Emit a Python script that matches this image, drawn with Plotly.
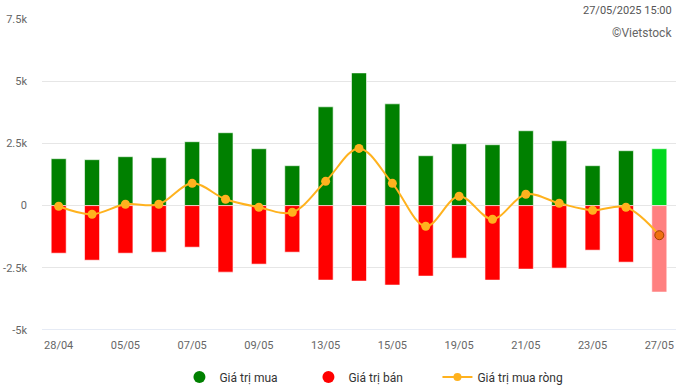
import plotly.graph_objects as go

dates = ["28/04", "29/04", "05/05", "06/05", "07/05", "08/05", "09/05", "12/05",
         "13/05", "14/05", "15/05", "16/05", "19/05", "20/05", "21/05", "22/05",
         "23/05", "26/05", "27/05"]
buy = [1886, 1846, 1966, 1926, 2568, 2929, 2286, 1604, 3971, 5334, 4091, 2005,
       2487, 2447, 3008, 2607, 1604, 2206, 2286]
sell = [-1913, -2194, -1913, -1873, -1672, -2675, -2353, -1872, -2995, -3035,
        -3195, -2834, -2112, -2995, -2553, -2513, -1791, -2273, -3476]
net = [b + s for b, s in zip(buy, sell)]
label_dates = ["28/04", "05/05", "07/05", "09/05", "13/05", "15/05", "19/05",
               "21/05", "23/05", "27/05"]
y_ticks = [-5000, -2500, 0, 2500, 5000, 7500]
y_labels = ["-5k", "-2.5k", "0", "2.5k", "5k", "7.5k"]

n = len(dates)
buy_colors = ["#008000"] * (n - 1) + ["#00d81e"]
sell_colors = ["#ff0000"] * (n - 1) + ["#ff8080"]
net_colors = ["#ffb21e"] * (n - 1) + ["#f07010"]
net_line_colors = ["#ffb21e"] * (n - 1) + ["#a04000"]

fig = go.Figure()
fig.add_trace(go.Bar(x=dates, y=buy, marker=dict(color=buy_colors, line=dict(color="white", width=0.6)),
                     showlegend=False, hoverinfo="y"))
fig.add_trace(go.Bar(x=dates, y=sell, marker=dict(color=sell_colors, line=dict(color="white", width=0.6)),
                     showlegend=False, hoverinfo="y"))
fig.add_trace(go.Scatter(x=dates, y=net, mode="lines+markers", line=dict(color="#ffb21e", width=2, shape="spline"),
                         marker=dict(size=9, color=net_colors, line=dict(color=net_line_colors, width=[0] * (n - 1) + [1])),
                         showlegend=False))
# legend entries
fig.add_trace(go.Scatter(x=[None], y=[None], mode="markers", name="Giá trị mua",
                         marker=dict(symbol="circle", size=12, color="#008000")))
fig.add_trace(go.Scatter(x=[None], y=[None], mode="markers", name="Giá trị bán",
                         marker=dict(symbol="circle", size=12, color="#ff0000")))
fig.add_trace(go.Scatter(x=[None], y=[None], mode="lines+markers", name="Giá trị mua ròng",
                         line=dict(color="#ffb21e", width=2), marker=dict(size=8, color="#ffb21e")))

fig.update_layout(
    width=679, height=389,
    margin=dict(l=42, r=3, t=19, b=59, autoexpand=False),
    paper_bgcolor="white", plot_bgcolor="white",
    barmode="relative", bargap=0.55,
    font=dict(family="Roboto, Arial, sans-serif", size=11, color="#666666"),
    legend=dict(orientation="h", x=0.522, xanchor="center", y=-0.151, yanchor="middle",
                font=dict(size=12, color="#333333"), itemwidth=30,
                entrywidth=84, entrywidthmode="pixels"),
    xaxis=dict(type="category", categoryorder="array", categoryarray=dates,
               range=[-0.5, n - 0.5], tickmode="array", tickvals=label_dates, ticktext=label_dates,
               showgrid=False, showline=False, ticks="", tickfont=dict(size=11, color="#666666"),
               ticklabelstandoff=7, fixedrange=True),
    yaxis=dict(range=[-5000, 7500], tickmode="array", tickvals=y_ticks, ticktext=y_labels,
               showgrid=True, gridcolor="#e6e6e6", gridwidth=1, zeroline=True, zerolinecolor="#e6e6e6",
               zerolinewidth=1, ticks="", ticklabelstandoff=14, tickfont=dict(size=11, color="#666666"),
               fixedrange=True),
    shapes=[dict(type="line", xref="paper", yref="y", x0=0, x1=1, y0=-5000, y1=-5000,
                 line=dict(color="#ccd6eb", width=1))],
    annotations=[
        dict(text="27/05/2025 15:00", xref="paper", yref="paper", x=1, y=1, xanchor="right",
             yanchor="middle", yshift=9, xshift=-2, showarrow=False, font=dict(size=11, color="#555555")),
        dict(text="©Vietstock", xref="paper", yref="paper", x=1, y=1, xanchor="right",
             yanchor="middle", yshift=-14, xshift=-2, showarrow=False, font=dict(size=12, color="#666666")),
    ],
)
fig.write_html("out.html", config={"displayModeBar": False},
               post_script="document.body.style.margin='0';document.body.style.overflow='hidden';")
